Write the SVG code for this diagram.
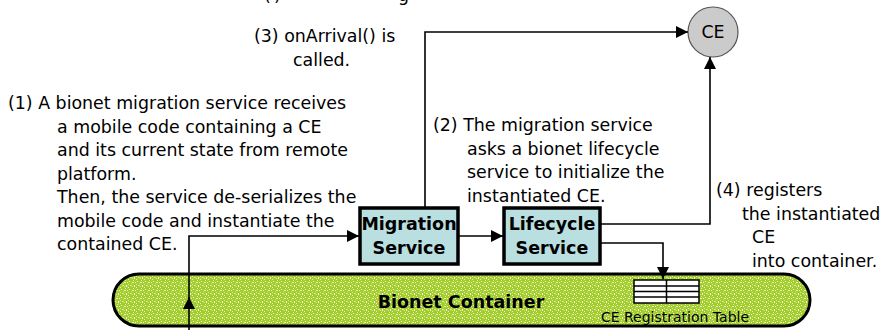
<svg xmlns="http://www.w3.org/2000/svg" width="891" height="330" viewBox="0 0 891 330">
<style>
.t{font-family:"DejaVu Sans","Liberation Sans",sans-serif;font-size:17.4px;fill:#000}
.s{font-family:"DejaVu Sans","Liberation Sans",sans-serif;font-size:14px;fill:#000}
.b{font-family:"DejaVu Sans","Liberation Sans",sans-serif;font-size:17.5px;font-weight:bold;fill:#000}
.c{fill:none;stroke:#000;stroke-width:1.6}
.box{fill:#b9dfe1;stroke:#000;stroke-width:3.5}
</style>
<defs>
<marker id="ah" viewBox="0 0 10 10" refX="10" refY="5" markerWidth="12" markerHeight="12" markerUnits="userSpaceOnUse" orient="auto">
<path d="M0,0 L10,5 L0,10 Z" fill="#000"/>
</marker>
<pattern id="spk" width="8" height="8" patternUnits="userSpaceOnUse">
<rect width="8" height="8" fill="#a4ce30"/>
<rect x="1" y="1" width="1" height="1" fill="#f4fbe0"/>
<rect x="4" y="2" width="2" height="1" fill="#e6f4bd"/>
<rect x="6" y="5" width="1" height="2" fill="#f4fbe0"/>
<rect x="2" y="5" width="2" height="1" fill="#d8ee95"/>
<rect x="0" y="7" width="1" height="1" fill="#e6f4bd"/>
<rect x="5" y="0" width="1" height="1" fill="#d8ee95"/>
<rect x="3" y="3" width="1" height="1" fill="#c6e36e"/>
<rect x="7" y="2" width="1" height="1" fill="#eef8d0"/>
<rect x="4" y="6" width="1" height="1" fill="#cfe984"/>
<rect x="0" y="4" width="1" height="1" fill="#dff09f"/>
</pattern>
</defs>

<text class="t" x="264" y="1">(</text>
<text class="t" x="274" y="1">)</text>
<text class="t" x="398" y="1">g</text>

<g id="container">
<rect x="113" y="274" width="697" height="52" rx="26" ry="26" fill="url(#spk)" stroke="#000" stroke-width="3"/>
<text class="b" x="461" y="308" text-anchor="middle">Bionet Container</text>
</g>

<g id="table">
<rect x="634" y="280" width="65" height="23" fill="#fff" stroke="#000" stroke-width="1.5"/>
<path d="M634,286 H699 M634,291.5 H699 M634,297 H699 M666.5,280 V303" stroke="#000" stroke-width="1.5" fill="none"/>
<text class="s" x="675" y="322" text-anchor="middle">CE Registration Table</text>
</g>

<g id="migration">
<rect class="box" x="360" y="208" width="98" height="56"/>
<text class="b" x="409" y="230" text-anchor="middle">Migration</text>
<text class="b" x="409" y="254" text-anchor="middle">Service</text>
</g>

<g id="lifecycle">
<rect class="box" x="504" y="208" width="96" height="56"/>
<text class="b" x="552" y="230" text-anchor="middle">Lifecycle</text>
<text class="b" x="552" y="254" text-anchor="middle">Service</text>
</g>

<g id="ce">
<circle cx="713" cy="32" r="25" fill="#cbcbcb" stroke="#555" stroke-width="1.2"/>
<text class="t" x="713" y="38" text-anchor="middle">CE</text>
</g>

<g id="connectors">
<path class="c" d="M189,330 V297" marker-end="url(#ah)"/>
<path class="c" d="M189,300 V236 H359" marker-end="url(#ah)"/>
<path class="c" d="M458,236 H503" marker-end="url(#ah)"/>
<path class="c" d="M425,208 V32 H688" marker-end="url(#ah)"/>
<path class="c" d="M600,224 H710 V57" marker-end="url(#ah)"/>
<path class="c" d="M600,243 H663 V279" marker-end="url(#ah)"/>
</g>

<g id="labels">
<text class="t" x="254" y="42">(3) onArrival() is</text>
<text class="t" x="293" y="66">called.</text>

<text class="t" x="8" y="109">(1) A bionet migration service receives</text>
<text class="t" x="57" y="132.5">a mobile code containing a CE</text>
<text class="t" x="57" y="156">and its current state from remote</text>
<text class="t" x="57" y="179.5">platform.</text>
<text class="t" x="57" y="203">Then, the service de-serializes the</text>
<text class="t" x="57" y="226.5">mobile code and instantiate the</text>
<text class="t" x="57" y="250">contained CE.</text>

<text class="t" x="433" y="131">(2) The migration service</text>
<text class="t" x="467" y="154.5">asks a bionet lifecycle</text>
<text class="t" x="467" y="178">service to initialize the</text>
<text class="t" x="467" y="201.5">instantiated CE.</text>

<text class="t" x="716" y="196">(4) registers</text>
<text class="t" x="742" y="219.5">the instantiated</text>
<text class="t" x="752" y="243">CE</text>
<text class="t" x="752" y="266.5">into container.</text>
</g>
</svg>
